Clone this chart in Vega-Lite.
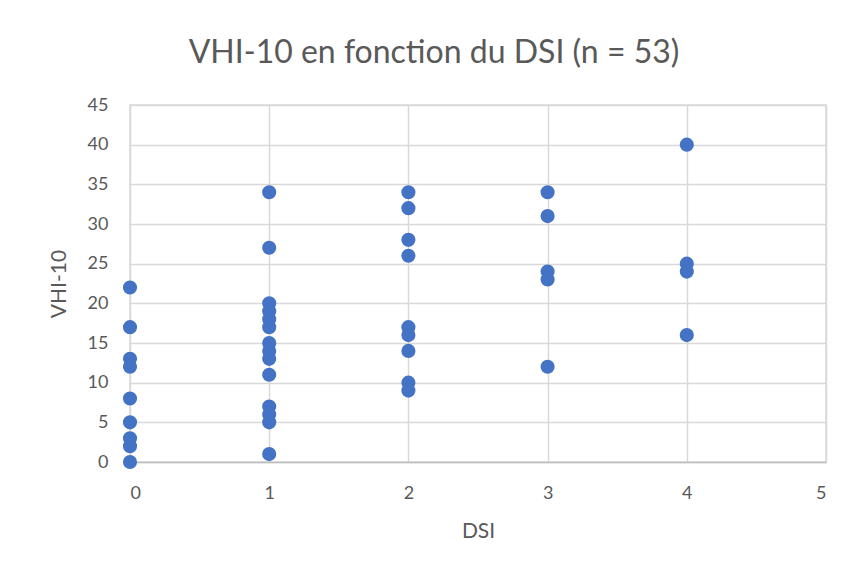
{
  "$schema": "https://vega.github.io/schema/vega-lite/v6.json",
  "width": 696,
  "height": 357,
  "autosize": {"type": "none"},
  "padding": {"left": 130, "top": 105, "right": 23, "bottom": 116},
  "background": "white",
  "title": {
    "text": "VHI-10 en fonction du DSI (n = 53)",
    "font": "Lato",
    "fontSize": 32,
    "fontWeight": "normal",
    "color": "#595959",
    "anchor": "middle",
    "frame": "group",
    "dx": -44,
    "offset": 26
  },
  "data": {
    "values": [
      {"DSI": 0, "VHI": 22}, {"DSI": 0, "VHI": 17}, {"DSI": 0, "VHI": 13}, {"DSI": 0, "VHI": 12},
      {"DSI": 0, "VHI": 8}, {"DSI": 0, "VHI": 5}, {"DSI": 0, "VHI": 3}, {"DSI": 0, "VHI": 2},
      {"DSI": 0, "VHI": 0},
      {"DSI": 1, "VHI": 34}, {"DSI": 1, "VHI": 27}, {"DSI": 1, "VHI": 20}, {"DSI": 1, "VHI": 19},
      {"DSI": 1, "VHI": 18}, {"DSI": 1, "VHI": 17}, {"DSI": 1, "VHI": 15}, {"DSI": 1, "VHI": 14},
      {"DSI": 1, "VHI": 13}, {"DSI": 1, "VHI": 11}, {"DSI": 1, "VHI": 7}, {"DSI": 1, "VHI": 6},
      {"DSI": 1, "VHI": 5}, {"DSI": 1, "VHI": 1},
      {"DSI": 2, "VHI": 34}, {"DSI": 2, "VHI": 32}, {"DSI": 2, "VHI": 28}, {"DSI": 2, "VHI": 26},
      {"DSI": 2, "VHI": 17}, {"DSI": 2, "VHI": 16}, {"DSI": 2, "VHI": 14}, {"DSI": 2, "VHI": 10},
      {"DSI": 2, "VHI": 9},
      {"DSI": 3, "VHI": 34}, {"DSI": 3, "VHI": 31}, {"DSI": 3, "VHI": 24}, {"DSI": 3, "VHI": 23},
      {"DSI": 3, "VHI": 12},
      {"DSI": 4, "VHI": 40}, {"DSI": 4, "VHI": 25}, {"DSI": 4, "VHI": 24}, {"DSI": 4, "VHI": 16}
    ]
  },
  "mark": {"type": "point", "filled": true, "shape": "circle", "size": 200, "color": "#4472C4", "opacity": 1},
  "encoding": {
    "x": {
      "field": "DSI",
      "type": "quantitative",
      "scale": {"domain": [0, 5], "nice": false, "zero": false},
      "axis": {"title": "DSI", "values": [0, 1, 2, 3, 4, 5], "format": "d", "titlePadding": 18}
    },
    "y": {
      "field": "VHI",
      "type": "quantitative",
      "scale": {"domain": [0, 45], "nice": false},
      "axis": {"title": "VHI-10", "values": [0, 5, 10, 15, 20, 25, 30, 35, 40, 45], "format": "d", "titlePadding": 18, "domain": false}
    }
  },
  "config": {
    "view": {"stroke": "#d9d9d9", "strokeWidth": 1.5},
    "axis": {
      "labelFont": "Lato",
      "labelFontSize": 18,
      "labelColor": "#595959",
      "titleFont": "Lato",
      "titleFontSize": 21,
      "titleFontWeight": "normal",
      "titleColor": "#595959",
      "gridColor": "#d9d9d9",
      "gridWidth": 1.5,
      "gridOpacity": 1,
      "ticks": false,
      "labelPadding": 22,
      "domainColor": "#bfbfbf",
      "domainWidth": 1.5
    }
  }
}
